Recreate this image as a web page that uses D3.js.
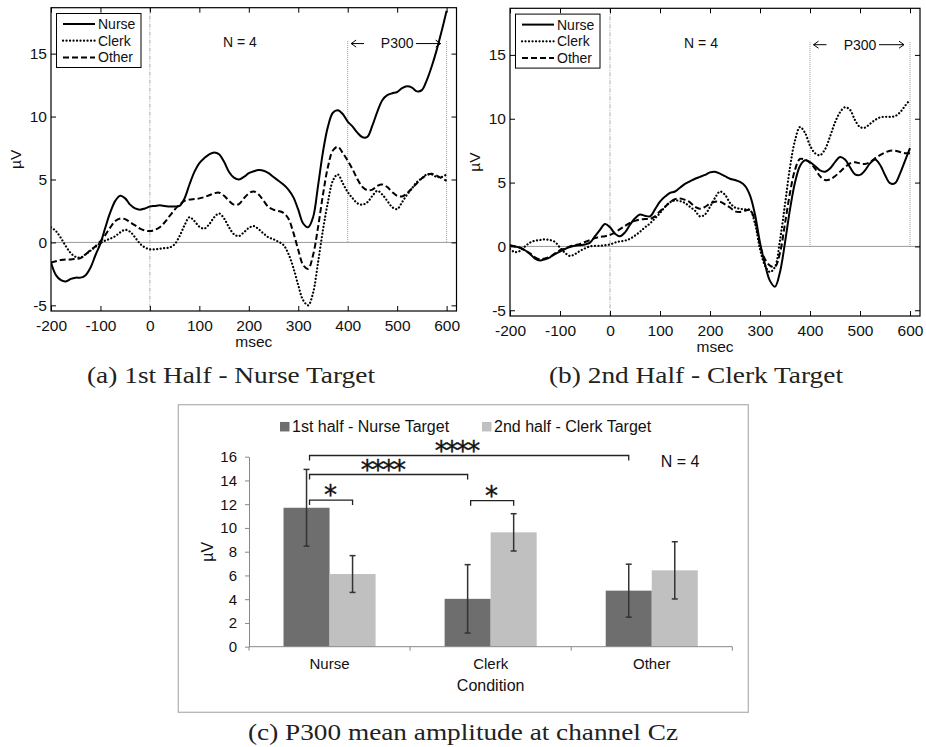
<!DOCTYPE html>
<html>
<head>
<meta charset="utf-8">
<script src="https://cdn.jsdelivr.net/npm/d3@7"></script>
<style>
body { margin: 0; background: #fff; }
svg { display: block; }
text { font-family: "Liberation Sans", Arial, sans-serif; fill: #111; }
text.cap { font-family: "Liberation Serif", "Times New Roman", serif; fill: #222; }
</style>
</head>
<body>
<svg width="926" height="747"></svg>
<script>
// sample times (ms)
var msec = [-200, -190, -180, -170, -160, -150, -140, -130, -120, -110,
            -100, -90, -80, -70, -60, -50, -40, -30, -20, -10,
            0, 10, 20, 30, 40, 50, 60, 70, 80, 90,
            100, 110, 120, 130, 140, 150, 160, 170, 180, 190,
            200, 210, 220, 230, 240, 250, 260, 270, 280, 290,
            300, 310, 320, 330, 340, 350, 360, 370, 380, 390,
            400, 410, 420, 430, 440, 450, 460, 470, 480, 490,
            500, 510, 520, 530, 540, 550, 560, 570, 580, 590,
            600];

// (a) 1st half - nurse target, uV
var nurseA = [-1.6, -2.6, -3.0, -3.1, -2.9, -2.8, -2.8, -2.6, -2.0, -1.0,
              -0.1, 1.2, 2.4, 3.3, 3.7, 3.5, 3.0, 2.7, 2.6, 2.7,
              2.85, 2.9, 2.95, 2.9, 2.85, 2.85, 2.9, 3.5, 4.6, 5.6,
              6.3, 6.7, 7.0, 7.15, 7.0, 6.4, 5.6, 5.15, 5.0, 5.2,
              5.5, 5.65, 5.75, 5.7, 5.5, 5.2, 4.9, 4.6, 4.2, 3.6,
              2.6, 1.5, 1.2, 2.0, 4.5, 7.2, 9.2, 10.3, 10.5, 10.2,
              9.6, 9.2, 8.7, 8.35, 8.4, 9.3, 10.4, 11.3, 11.7, 11.85,
              11.95, 12.25, 12.4, 12.3, 12.0, 12.1, 12.9, 14.0, 15.3, 16.8,
              18.4];
var clerkA = [1.2, 0.9, 0.35, -0.3, -0.85, -1.15, -1.2, -0.95, -0.65, -0.35,
              -0.05, 0.15, 0.3, 0.5, 0.8, 1.0, 0.85, 0.4, -0.1, -0.4,
              -0.55, -0.55, -0.5, -0.45, -0.4, -0.15, 0.5, 1.35, 2.0, 1.7,
              1.25, 1.1, 1.45, 2.0, 2.3, 1.9, 1.2, 0.65, 0.5, 0.8,
              1.15, 1.3, 1.05, 0.7, 0.4, 0.25, 0.05, -0.2, -0.9, -2.0,
              -3.4, -4.6, -5.0, -4.0, -1.6, 1.0, 3.2, 4.9, 5.4, 4.7,
              4.0, 3.5, 3.1, 3.0, 3.2, 3.7, 4.1, 3.8, 3.3, 2.8,
              2.65, 3.2, 3.8, 4.3, 4.8, 5.1, 5.4, 5.4, 5.2, 5.2,
              5.4];
var otherA = [-1.6, -1.5, -1.4, -1.35, -1.35, -1.3, -1.25, -0.95, -0.6, -0.3,
              0.1, 0.6, 1.2, 1.7, 1.9, 1.85, 1.6, 1.35, 1.1, 0.95,
              0.9, 1.0, 1.2, 1.6, 2.1, 2.6, 3.0, 3.3, 3.4, 3.45,
              3.5, 3.6, 3.75, 3.9, 3.95, 3.7, 3.3, 3.0, 3.05, 3.5,
              3.9, 4.05, 3.8, 3.3, 2.8, 2.6, 2.5, 2.35, 1.9, 0.8,
              -0.6, -1.8, -2.1, -1.0, 1.2, 3.8, 6.0, 7.3, 7.6, 7.1,
              6.5, 5.8, 5.0, 4.4, 4.15, 4.2, 4.5, 4.6, 4.4, 4.0,
              3.7, 3.65, 3.9, 4.3, 4.7, 5.1, 5.35, 5.45, 5.3, 5.1,
              4.9];

// (b) 2nd half - clerk target, uV
var nurseB = [0.05, 0.0, -0.1, -0.3, -0.6, -0.95, -1.1, -1.0, -0.85, -0.6,
              -0.4, -0.2, -0.05, 0.05, 0.1, 0.15, 0.3, 0.8, 1.3, 1.75,
              1.5, 1.0, 0.8, 1.1, 1.7, 2.2, 2.5, 2.4, 2.35, 2.9,
              3.5, 3.9, 4.2, 4.3, 4.6, 4.9, 5.1, 5.3, 5.45, 5.6,
              5.8, 5.85, 5.7, 5.5, 5.3, 5.2, 5.05, 4.75, 4.0, 2.5,
              0.3, -1.4, -2.7, -3.15, -2.0, 0.3, 2.9, 5.0, 6.3, 6.75,
              6.6, 6.3, 5.95, 5.85, 6.1, 6.6, 7.0, 6.8, 6.2, 5.65,
              5.6, 5.95, 6.5, 6.8, 6.4, 5.6, 4.95, 4.95, 5.7, 6.7,
              7.7];
var clerkB = [-0.2, -0.45, -0.35, 0.0, 0.3, 0.45, 0.5, 0.55, 0.5, 0.35,
              -0.1, -0.5, -0.75, -0.6, -0.35, -0.15, 0.0, 0.05, 0.05, 0.1,
              0.15, 0.3, 0.4, 0.45, 0.6, 0.85, 1.15, 1.5, 1.8, 2.2,
              2.6, 3.1, 3.45, 3.6, 3.55, 3.4, 3.1, 2.8, 2.35, 2.5,
              3.1, 3.8, 4.3, 4.05, 3.4, 3.05, 2.95, 2.9, 2.85, 1.8,
              -0.2, -1.5, -2.0, -1.6, 0.5, 3.3, 6.2, 8.3, 9.35, 8.9,
              7.9, 7.3, 7.15, 7.6, 8.6, 9.7, 10.5, 10.9, 10.7, 9.9,
              9.35, 9.3, 9.6, 9.9, 10.1, 10.15, 10.15, 10.2, 10.5, 11.0,
              11.5];
var otherB = [0.1, 0.0, -0.1, -0.3, -0.55, -0.85, -1.0, -0.95, -0.8, -0.55,
              -0.3, -0.15, 0.0, 0.1, 0.2, 0.35, 0.5, 0.65, 0.75, 0.8,
              0.9, 1.1, 1.35, 1.6, 1.85, 2.0, 2.1, 2.15, 2.15, 2.35,
              2.75, 3.1, 3.45, 3.7, 3.75, 3.65, 3.45, 3.1, 2.95, 3.1,
              3.35, 3.5, 3.5, 3.3, 3.05, 2.75, 2.7, 2.8, 2.85, 2.0,
              0.1, -1.0, -1.5, -1.6, -0.5, 1.8, 4.2, 6.0, 6.85, 6.8,
              6.55, 6.1, 5.5, 5.2, 5.25, 5.5, 5.85, 6.2, 6.5, 6.6,
              6.5, 6.45, 6.6, 6.9, 7.15, 7.35, 7.5, 7.5, 7.4, 7.3,
              7.3];

var xTicks = [-200, -100, 0, 100, 200, 300, 400, 500, 600];
var yTicks = [-5, 0, 5, 10, 15];

// (c) P300 mean amplitude
var conditions = ["Nurse", "Clerk", "Other"];
var halves = ["1st half - Nurse Target", "2nd half - Clerk Target"];
var firstHalf = [11.7, 4.03, 4.72];
var firstHalfErr = [3.23, 2.88, 2.23];
var secondHalf = [6.12, 9.63, 6.43];
var secondHalfErr = [1.55, 1.57, 2.41];
var barTicks = [0, 2, 4, 6, 8, 10, 12, 14, 16];

var svg = d3.select("svg");
var plain = function (d) { return String(d); };   // hyphen minus like the original

var lineStyles = [
    { name: "Nurse", dash: null, width: 2, cap: "butt" },
    { name: "Clerk", dash: "0.1,3.4", width: 2.2, cap: "round" },
    { name: "Other", dash: "6,3", width: 2, cap: "butt" }
];

function caption(x, y, w, str) {
    svg.append("text").attr("class", "cap")
        .attr("x", x).attr("y", y).attr("dy", "0.35em")
        .attr("text-anchor", "middle").attr("font-size", 22.5)
        .attr("textLength", w).attr("lengthAdjust", "spacingAndGlyphs")
        .text(str);
}

function erpPanel(cfg, series) {
    var x = d3.scaleLinear().domain([-200, 620]).range([cfg.left, cfg.right]);
    var y = d3.scaleLinear().domain([-5.45, 18.65]).range([cfg.bottom, cfg.top]);
    var g = svg.append("g");

    g.append("clipPath").attr("id", cfg.id + "clip")
        .append("rect")
        .attr("x", cfg.left).attr("y", cfg.top)
        .attr("width", cfg.right - cfg.left).attr("height", cfg.bottom - cfg.top);

    // reference lines
    g.append("line")
        .attr("x1", x(-200)).attr("x2", x(620))
        .attr("y1", y(0)).attr("y2", y(0))
        .attr("stroke", "#999").attr("stroke-width", 1);
    g.append("line")
        .attr("x1", x(0)).attr("x2", x(0))
        .attr("y1", cfg.top).attr("y2", cfg.bottom)
        .attr("stroke", "#aaa").attr("stroke-width", 1)
        .attr("stroke-dasharray", "4,1.5,1,1.5");
    [400, 600].forEach(function (t) {
        g.append("line")
            .attr("x1", x(t)).attr("x2", x(t))
            .attr("y1", y(16)).attr("y2", y(0))
            .attr("stroke", "#999").attr("stroke-width", 1)
            .attr("stroke-dasharray", "1,1");
    });

    // P300 window annotation
    var ay = y(15.8);
    function arrow(from, to) {
        var dir = to > from ? -1 : 1;
        g.append("line")
            .attr("x1", x(from)).attr("x2", x(to))
            .attr("y1", ay).attr("y2", ay)
            .attr("stroke", "#000").attr("stroke-width", 1);
        g.append("path")
            .attr("d", "M" + (x(to) + dir * 5) + "," + (ay - 3.5) + "L" + x(to) + "," + ay + "L" + (x(to) + dir * 5) + "," + (ay + 3.5))
            .attr("fill", "none").attr("stroke", "#000").attr("stroke-width", 1);
    }
    arrow(433, 407);
    arrow(538, 588);
    g.append("text").attr("x", x(500)).attr("y", ay).attr("dy", "0.35em")
        .attr("text-anchor", "middle").attr("font-size", 14).text("P300");
    g.append("text").attr("x", x(182)).attr("y", y(15.9)).attr("dy", "0.35em")
        .attr("text-anchor", "middle").attr("font-size", 14).text("N = 4");

    // ERP curves
    var line = d3.line()
        .x(function (d, i) { return x(msec[i]); })
        .y(function (d) { return y(d); })
        .curve(d3.curveCatmullRom.alpha(0.5));
    g.append("g").attr("clip-path", "url(#" + cfg.id + "clip)")
        .selectAll("path")
        .data(series)
        .join("path")
        .attr("d", function (d) { return line(d); })
        .attr("fill", "none")
        .attr("stroke", "#000")
        .attr("stroke-width", function (d, i) { return lineStyles[i].width; })
        .attr("stroke-linecap", function (d, i) { return lineStyles[i].cap; })
        .attr("stroke-dasharray", function (d, i) { return lineStyles[i].dash; });

    // axes (MATLAB style, ticks inside, boxed)
    var bottom = g.append("g").attr("transform", "translate(0," + cfg.bottom + ")")
        .call(d3.axisBottom(x).tickValues(xTicks).tickFormat(plain).tickSize(-5).tickSizeOuter(0).tickPadding(8.5));
    var left = g.append("g").attr("transform", "translate(" + cfg.left + ",0)")
        .call(d3.axisLeft(y).tickValues(yTicks).tickFormat(plain).tickSize(-5).tickSizeOuter(0).tickPadding(4));
    g.append("g").attr("transform", "translate(0," + cfg.top + ")")
        .call(d3.axisTop(x).tickValues(xTicks).tickSize(-5).tickSizeOuter(0).tickFormat(""));
    g.append("g").attr("transform", "translate(" + cfg.right + ",0)")
        .call(d3.axisRight(y).tickValues(yTicks).tickSize(-5).tickSizeOuter(0).tickFormat(""));
    g.selectAll(".domain").remove();
    g.selectAll(".tick line").attr("stroke", "#000");
    [bottom, left].forEach(function (a) { a.attr("font-size", 15.5); });

    g.append("rect")
        .attr("x", cfg.left).attr("y", cfg.top)
        .attr("width", cfg.right - cfg.left).attr("height", cfg.bottom - cfg.top)
        .attr("fill", "none").attr("stroke", "#000").attr("stroke-width", 1.2);

    g.append("text")
        .attr("transform", "translate(" + (cfg.left - 35) + "," + ((cfg.top + cfg.bottom) / 2) + ") rotate(-90)")
        .attr("dy", "0.35em").attr("text-anchor", "middle").attr("font-size", 15.5)
        .text("\u00b5V");
    g.append("text")
        .attr("x", (cfg.left + cfg.right) / 2).attr("y", cfg.bottom + 31)
        .attr("dy", "0.35em").attr("text-anchor", "middle").attr("font-size", 15.5)
        .text("msec");

    // legend
    var lx = cfg.left + 5.5, ly = cfg.top + 5.8;
    var lg = g.append("g").attr("transform", "translate(" + lx + "," + ly + ")");
    lg.append("rect").attr("width", 84.5).attr("height", 54)
        .attr("fill", "#fff").attr("stroke", "#000").attr("stroke-width", 1);
    var item = lg.selectAll("g.item").data(lineStyles).join("g")
        .attr("transform", function (d, i) { return "translate(0," + (10.5 + i * 16.7) + ")"; });
    item.append("line").attr("x1", 6.5).attr("x2", 38.5)
        .attr("stroke", "#000")
        .attr("stroke-width", function (d) { return d.width; })
        .attr("stroke-linecap", function (d) { return d.cap; })
        .attr("stroke-dasharray", function (d) { return d.dash; });
    item.append("text").attr("x", 41.5).attr("dy", "0.35em").attr("font-size", 14)
        .text(function (d) { return d.name; });

    caption(cfg.capX, 375, cfg.capW, cfg.caption);
}

erpPanel({ id: "a", left: 51, right: 456.5, top: 7.7, bottom: 311, capX: 231, capW: 288,
           caption: "(a) 1st Half - Nurse Target" }, [nurseA, clerkA, otherA]);
erpPanel({ id: "b", left: 510, right: 920, top: 8.3, bottom: 316, capX: 696, capW: 294,
           caption: "(b) 2nd Half - Clerk Target" }, [nurseB, clerkB, otherB]);

// ---- (c) bar chart ----
var bg = svg.append("g");
bg.append("rect").attr("x", 178.3).attr("y", 404.7).attr("width", 570).attr("height", 307.6)
    .attr("fill", "none").attr("stroke", "#b5b5b5").attr("stroke-width", 1.3);

var x0 = d3.scaleBand().domain(conditions).range([249, 732.3]);
var x1 = d3.scaleBand().domain([0, 1]).range([0, x0.bandwidth()]).paddingOuter(0.75);
var yb = d3.scaleLinear().domain([0, 16]).range([646.7, 456.7]);
var barColors = ["#6e6e6e", "#c0c0c0"];

var rows = conditions.map(function (c, i) {
    return { cond: c, vals: [
        { k: 0, v: firstHalf[i], e: firstHalfErr[i] },
        { k: 1, v: secondHalf[i], e: secondHalfErr[i] }] };
});

var yAx = bg.append("g").attr("transform", "translate(249,0)")
    .call(d3.axisLeft(yb).tickValues(barTicks).tickFormat(plain).tickSize(4).tickSizeOuter(0).tickPadding(8));
yAx.attr("font-size", 15);
yAx.selectAll("line, path").attr("stroke", "#888");

var grp = bg.selectAll("g.cond").data(rows).join("g")
    .attr("transform", function (d) { return "translate(" + x0(d.cond) + ",0)"; });
grp.selectAll("rect").data(function (d) { return d.vals; }).join("rect")
    .attr("x", function (d) { return x1(d.k); })
    .attr("width", x1.bandwidth())
    .attr("y", function (d) { return yb(d.v); })
    .attr("height", function (d) { return yb(0) - yb(d.v); })
    .attr("fill", function (d) { return barColors[d.k]; });
var eb = grp.selectAll("g.err").data(function (d) { return d.vals; }).join("g")
    .attr("transform", function (d) { return "translate(" + (x1(d.k) + x1.bandwidth() / 2) + ",0)"; })
    .attr("stroke", "#333").attr("stroke-width", 1.5);
eb.append("line").attr("y1", function (d) { return yb(d.v + d.e); }).attr("y2", function (d) { return yb(d.v - d.e); });
eb.append("line").attr("x1", -3).attr("x2", 3)
    .attr("y1", function (d) { return yb(d.v + d.e); }).attr("y2", function (d) { return yb(d.v + d.e); });
eb.append("line").attr("x1", -3).attr("x2", 3)
    .attr("y1", function (d) { return yb(d.v - d.e); }).attr("y2", function (d) { return yb(d.v - d.e); });

// category axis
var xAx = bg.append("g").attr("transform", "translate(0," + yb(0) + ")");
xAx.append("line").attr("x1", x0.range()[0]).attr("x2", x0.range()[1]).attr("stroke", "#888");
xAx.selectAll("line.tk").data(conditions.map(function (c) { return x0(c); }).concat([x0.range()[1]]))
    .join("line").attr("class", "tk")
    .attr("x1", function (d) { return d; }).attr("x2", function (d) { return d; })
    .attr("y2", 4).attr("stroke", "#888");
xAx.selectAll("text").data(conditions).join("text")
    .attr("x", function (d) { return x0(d) + x0.bandwidth() / 2; })
    .attr("y", 16.6).attr("dy", "0.35em").attr("text-anchor", "middle").attr("font-size", 15)
    .text(function (d) { return d; });

bg.append("text").attr("x", x0("Clerk") + x0.bandwidth() / 2).attr("y", 685.7).attr("dy", "0.35em")
    .attr("text-anchor", "middle").attr("font-size", 16).text("Condition");
bg.append("text")
    .attr("transform", "translate(207," + yb(8) + ") rotate(-90)")
    .attr("dy", "0.35em").attr("text-anchor", "middle").attr("font-size", 16).text("\u00b5V");
bg.append("text").attr("x", 680).attr("y", 461).attr("dy", "0.35em")
    .attr("text-anchor", "middle").attr("font-size", 16).text("N = 4");

// legend
var leg = bg.selectAll("g.leg").data(halves).join("g")
    .attr("transform", function (d, i) { return "translate(" + [280, 482][i] + ",426.7)"; });
leg.append("rect").attr("y", -4.75).attr("width", 9.5).attr("height", 9.5)
    .attr("fill", function (d, i) { return barColors[i]; });
leg.append("text").attr("x", 12).attr("dy", "0.35em").attr("font-size", 16)
    .text(function (d) { return d; });

// significance brackets
var brackets = [
    { a: ["Nurse", 0], b: ["Other", 0], y: 16.1, label: "****" },
    { a: ["Nurse", 0], b: ["Clerk", 0], y: 14.5, label: "****" },
    { a: ["Nurse", 0], b: ["Nurse", 1], y: 12.35, label: "*" },
    { a: ["Clerk", 0], b: ["Clerk", 1], y: 12.3, label: "*" }
];
function barCenter(p) { return x0(p[0]) + x1(p[1]) + x1.bandwidth() / 2; }
var br = bg.selectAll("g.br").data(brackets).join("g");
br.append("path")
    .attr("d", function (d) {
        var xa = barCenter(d.a) + 3, xb = barCenter(d.b), yy = yb(d.y);
        return "M" + xa + "," + (yy + 5) + "V" + yy + "H" + xb + "V" + (yy + 5);
    })
    .attr("fill", "none").attr("stroke", "#222").attr("stroke-width", 1.3);
br.append("text")
    .attr("x", function (d) {
        var xa = barCenter(d.a) + 3, xb = barCenter(d.b);
        return xa + (xb - xa) * 0.46;
    })
    .attr("y", function (d) { return yb(d.y) + 4; })
    .attr("text-anchor", "middle").attr("font-size", 26)
    .style("font-family", "'DejaVu Sans', sans-serif")
    .attr("letter-spacing", -2.2)
    .attr("stroke", "#111").attr("stroke-width", 0.35)
    .text(function (d) { return d.label; });

caption(463, 731.7, 430, "(c) P300 mean amplitude at channel Cz");
</script>
</body>
</html>
